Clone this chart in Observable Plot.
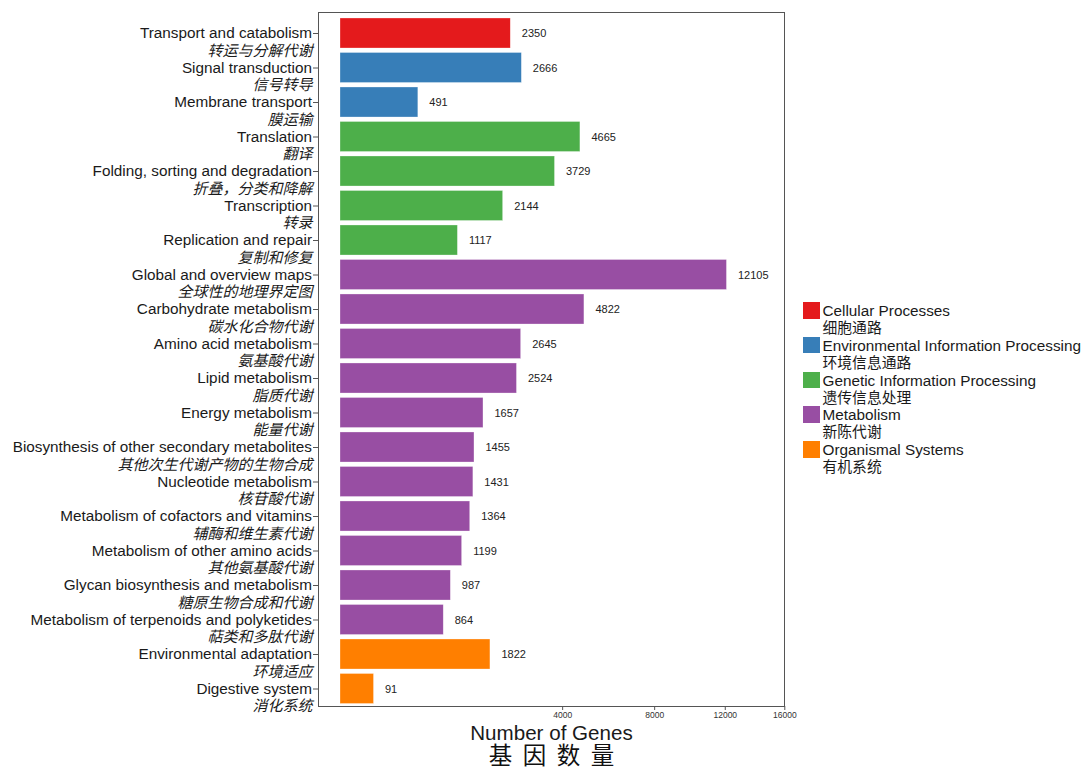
<!DOCTYPE html>
<html><head><meta charset="utf-8">
<script src="https://cdn.jsdelivr.net/npm/d3@7"></script>
<script src="https://cdn.jsdelivr.net/npm/@observablehq/plot@0.6"></script>
<style>
body{margin:0;background:#fff;}
#wrap{position:relative;width:1084px;height:769px;}
#legend{position:absolute;left:803px;top:302px;font-family:"Liberation Sans",Arial,sans-serif;color:#1a1a1a;}
.item{position:relative;height:34.8px;}
.sw{position:absolute;left:0;top:0;width:16.5px;height:16.5px;}
.en{position:absolute;left:19.5px;top:0;font-size:15.3px;line-height:17px;white-space:nowrap;}
.zh{position:absolute;left:19.5px;top:16px;font-size:14.8px;line-height:17px;white-space:nowrap;font-family:"Noto Sans CJK SC",sans-serif;}
</style>
</head><body>
<div id="wrap"><div id="chart"></div><div id="legend"></div></div>
<script>
const categories = ["Transport and catabolism","Signal transduction","Membrane transport","Translation","Folding, sorting and degradation","Transcription","Replication and repair","Global and overview maps","Carbohydrate metabolism","Amino acid metabolism","Lipid metabolism","Energy metabolism","Biosynthesis of other secondary metabolites","Nucleotide metabolism","Metabolism of cofactors and vitamins","Metabolism of other amino acids","Glycan biosynthesis and metabolism","Metabolism of terpenoids and polyketides","Environmental adaptation","Digestive system"];
const categoriesZh = ["转运与分解代谢","信号转导","膜运输","翻译","折叠，分类和降解","转录","复制和修复","全球性的地理界定图","碳水化合物代谢","氨基酸代谢","脂质代谢","能量代谢","其他次生代谢产物的生物合成","核苷酸代谢","辅酶和维生素代谢","其他氨基酸代谢","糖原生物合成和代谢","萜类和多肽代谢","环境适应","消化系统"];
const values = [2350,2666,491,4665,3729,2144,1117,12105,4822,2645,2524,1657,1455,1431,1364,1199,987,864,1822,91];
const groups = ["Cellular Processes","Environmental Information Processing","Environmental Information Processing","Genetic Information Processing","Genetic Information Processing","Genetic Information Processing","Genetic Information Processing","Metabolism","Metabolism","Metabolism","Metabolism","Metabolism","Metabolism","Metabolism","Metabolism","Metabolism","Metabolism","Metabolism","Organismal Systems","Organismal Systems"];
const groupNames = ["Cellular Processes","Environmental Information Processing","Genetic Information Processing","Metabolism","Organismal Systems"];
const groupNamesZh = ["细胞通路","环境信息通路","遗传信息处理","新陈代谢","有机系统"];
const groupColors = ["#E41A1C","#377EB8","#4DAF4A","#984EA3","#FF7F00"];
const xTicks = [4000,8000,12000,16000];
const xTitle = "Number of Genes";
const xTitleZh = "基  因  数  量";

const table = categories.map((c,i)=>({name:c, zh:categoriesZh[i], value:values[i], group:groups[i]}));
const en = {fontFamily:"Liberation Sans, Arial, sans-serif"};

const chart = Plot.plot({
  width:1084, height:769,
  marginLeft:318, marginRight:300, marginTop:12, marginBottom:63,
  style:{fontFamily:"Liberation Sans, Arial, sans-serif", background:"#fff", overflow:"visible"},
  x:{type:"sqrt", domain:[0,16000], range:[340,784.3], label:null},
  y:{domain:categories, range:[15.75,705.75], paddingInner:0.13, paddingOuter:0.065, round:false, label:null},
  color:{domain:groupNames, range:groupColors},
  marks:[
    Plot.barX(table,{x:"value", y:"name", fill:"group", stroke:"#fff", strokeOpacity:0.5, strokeWidth:0.6}),
    Plot.frame({stroke:"#555", strokeWidth:1}),
    Plot.axisX({ticks:xTicks, tickSize:4, tickPadding:1, tickFormat:d3.format("d"), fontSize:8.5, fill:"#333", stroke:"#555", label:null}),
    Plot.axisY({tickSize:5, tickFormat:()=>"", stroke:"#555", label:null}),
    Plot.text(table,{y:"name", text:"name", frameAnchor:"left", dx:-6.5, textAnchor:"end", fontSize:15.3, fill:"#1a1a1a", ...en}),
    Plot.text(table,{y:"name", text:"zh", frameAnchor:"left", dx:-6, dy:17.5, textAnchor:"end", fontSize:15, fontStyle:"italic", fill:"#1a1a1a", fontFamily:"Noto Sans CJK SC, sans-serif"}),
    Plot.text(table,{x:"value", y:"name", text:d=>String(d.value), textAnchor:"start", dx:11, fontSize:11, fill:"#222", ...en}),
    Plot.text([xTitle],{text:d=>d, frameAnchor:"bottom", lineAnchor:"middle", dy:26.5, fontSize:20.6, fill:"#1a1a1a", ...en}),
    Plot.text([xTitleZh],{text:d=>d, frameAnchor:"bottom", lineAnchor:"middle", dy:49.5, fontSize:23.5, fill:"#111", fontFamily:"Noto Sans CJK SC, sans-serif"})
  ]
});
document.getElementById("chart").appendChild(chart);

const legend = document.getElementById("legend");
groupNames.forEach((g,i)=>{
  const it = document.createElement("div"); it.className="item";
  it.innerHTML = `<div class="sw" style="background:${groupColors[i]}"></div><div class="en">${g}</div><div class="zh">${groupNamesZh[i]}</div>`;
  legend.appendChild(it);
});
</script>
</body></html>
